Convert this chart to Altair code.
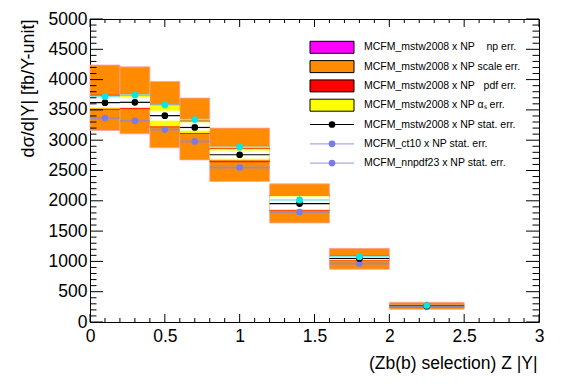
import altair as alt
import pandas as pd
import numpy as np

# ---------------- data ----------------
bin_lo = [0.0, 0.2, 0.4, 0.6, 0.8, 1.2, 1.6, 2.0]
bin_hi = [0.2, 0.4, 0.6, 0.8, 1.2, 1.6, 2.0, 2.5]
bin_mid = [0.1, 0.3, 0.5, 0.7, 1.0, 1.4, 1.8, 2.25]

mstw = [3620, 3625, 3405, 3210, 2760, 1955, 1048, 265]      # black
nnpdf = [3720, 3745, 3580, 3340, 2885, 2015, 1078, 272]     # cyan
ct10 = [3365, 3320, 3175, 2980, 2550, 1815, 965, 255]       # purple

nnpdf_err = [30, 30, 30, 30, 35, 60, 25, 10]

scale_lo = [3160, 3105, 2875, 2675, 2320, 1635, 870, 210]
scale_hi = [4240, 4210, 3970, 3695, 3200, 2280, 1215, 325]
pdf_lo = [3500, 3515, 3212, 3103, 2637, 1830, 1010, 245]
pdf_hi = [3750, 3745, 3596, 3322, 2880, 2095, 1092, 290]
as_lo = [3520, 3530, 3228, 3120, 2664, 1842, 1020, 250]
as_hi = [3735, 3735, 3580, 3310, 2857, 2089, 1082, 285]
inner_lo = [3540, 3545, 3322, 3158, 2692, 1860, 1030, 255]
inner_hi = [3710, 3715, 3487, 3294, 2829, 2070, 1072, 280]

x_tick_labels = [0, 0.5, 1, 1.5, 2, 2.5, 3]
y_tick_labels = [0, 500, 1000, 1500, 2000, 2500, 3000, 3500, 4000, 4500, 5000]

leg_box_labels = [
    "MCFM_mstw2008 x NP\u00a0\u00a0\u00a0\u00a0np err.",
    "MCFM_mstw2008 x NP scale err.",
    "MCFM_mstw2008 x NP\u00a0\u00a0\u00a0pdf err.",
    "MCFM_mstw2008 x NP \u03b1\u209b err.",
]
leg_box_colors = ["#ff00ff", "#ff8c00", "#ff0000", "#ffff00"]
leg_line_labels = [
    "MCFM_mstw2008 x NP stat. err.",
    "MCFM_ct10 x NP stat. err.",
    "MCFM_nnpdf23 x NP stat. err.",
]
leg_line_colors = ["#000000", "#7b7be8", "#7b7be8"]
leg_line_stroke = ["#000000", "#a8a8f0", "#a8a8f0"]

df = pd.DataFrame({
    "lo": bin_lo, "hi": bin_hi, "mid": bin_mid,
    "mstw": mstw, "nnpdf": nnpdf, "ct10": ct10,
    "nn_lo": [v - e for v, e in zip(nnpdf, nnpdf_err)],
    "nn_hi": [v + e for v, e in zip(nnpdf, nnpdf_err)],
    "scale_lo": scale_lo, "scale_hi": scale_hi,
    "pdf_lo": pdf_lo, "pdf_hi": pdf_hi,
    "as_lo": as_lo, "as_hi": as_hi,
    "in_lo": inner_lo, "in_hi": inner_hi,
})

# ---------------- layout / style ----------------
W, H = 449, 303
FONT = "Liberation Sans"

xs = alt.Scale(domain=[0, 3], nice=False, zero=False)
ys = alt.Scale(domain=[0, 5000], nice=False)

xaxis = alt.Axis(values=x_tick_labels, format="~g", ticks=False, domain=False, grid=False,
                 labelFont=FONT, labelFontSize=17.5, labelPadding=5, labelColor="black",
                 labelFlush=False, labelOverlap=False,
                 title="(Zb(b) selection) Z |Y|", titleFont=FONT, titleFontSize=17.5,
                 titleFontWeight="normal", titleColor="black", titleAlign="right",
                 titleBaseline="alphabetic", titleX=W - 2, titleY=46)
yaxis = alt.Axis(values=y_tick_labels, format="d", ticks=False, domain=False, grid=False,
                 labelFont=FONT, labelFontSize=17.5, labelPadding=3, labelColor="black",
                 labelFlush=False, labelOverlap=False,
                 title="d\u03c3/d|Y| [fb/Y-unit]", titleFont=FONT, titleFontSize=18,
                 titleFontWeight="normal", titleColor="black", titleAngle=270,
                 titleAlign="right", titleBaseline="alphabetic", titleX=-57, titleY=0)

def X(f):
    return alt.X(f, type="quantitative", scale=xs, axis=xaxis)

def Y(f):
    return alt.Y(f, type="quantitative", scale=ys, axis=yaxis)

base = alt.Chart(df)

orange = base.mark_rect(fill="#ff8c00", stroke="#ffa0b0", strokeWidth=0.8).encode(
    x=X("lo"), x2="hi", y=Y("scale_lo"), y2="scale_hi")
red = base.mark_rect(fill="#ff1a00").encode(x=X("lo"), x2="hi", y=Y("pdf_lo"), y2="pdf_hi")
yellow = base.mark_rect(fill="#ffff00").encode(x=X("lo"), x2="hi", y=Y("as_lo"), y2="as_hi")
inner = base.mark_rect(fill="#ffffff").encode(x=X("lo"), x2="hi", y=Y("in_lo"), y2="in_hi")

line_cyan = base.mark_rule(color="#80e8e8", strokeWidth=1.5).encode(x=X("lo"), x2="hi", y=Y("nnpdf"))
line_black = base.mark_rule(color="#000000", strokeWidth=1.2).encode(x=X("lo"), x2="hi", y=Y("mstw"))
line_purple = base.mark_rule(color="#8a8ad0", strokeWidth=2, opacity=0.75).encode(
    x=X("lo"), x2="hi", y=Y("ct10"))

err_cyan = base.mark_rule(color="#70c8a0", strokeWidth=1.2).encode(x=X("mid"), y=Y("nn_lo"), y2="nn_hi")

pt_purple = base.mark_point(filled=True, shape="circle", size=45, color="#7b7be8", opacity=1).encode(
    x=X("mid"), y=Y("ct10"))
pt_black = base.mark_point(filled=True, shape="circle", size=45, color="#000000", opacity=1).encode(
    x=X("mid"), y=Y("mstw"))
pt_cyan = base.mark_point(filled=True, shape="circle", size=45, color="#00e8e8", opacity=1).encode(
    x=X("mid"), y=Y("nnpdf"))

# ---------------- inward ticks (ROOT style) ----------------
y_major = pd.DataFrame({"v": y_tick_labels})
y_minor = pd.DataFrame({"v": [v for v in range(0, 5001, 100) if v % 500 != 0]})
x_major = pd.DataFrame({"v": x_tick_labels})
x_minor = pd.DataFrame({"v": [round(v, 2) for v in np.arange(0, 3.001, 0.1) if round(v * 10) % 5 != 0]})

tick_layers = []
for d, L in [(y_major, 13), (y_minor, 6.5)]:
    c = alt.Chart(d).mark_rule(color="black", strokeWidth=1)
    tick_layers.append(c.encode(y=Y("v"), x=alt.value(0), x2=alt.value(L)))
    tick_layers.append(c.encode(y=Y("v"), x=alt.value(W - L), x2=alt.value(W)))
for d, L in [(x_major, 8), (x_minor, 4)]:
    c = alt.Chart(d).mark_rule(color="black", strokeWidth=1)
    tick_layers.append(c.encode(x=X("v"), y=alt.value(H), y2=alt.value(H - L)))
    tick_layers.append(c.encode(x=X("v"), y=alt.value(0), y2=alt.value(L)))

# ---------------- legend ----------------
leg_layers = []
row0, step = 28.3, 19.3
lx0, lx1, tx = 220, 264, 274
for i, (lab, col) in enumerate(zip(leg_box_labels, leg_box_colors)):
    yc = row0 + i * step
    d = pd.DataFrame({"label": [lab]})
    leg_layers.append(alt.Chart(d).mark_rect(fill=col, stroke="black", strokeWidth=1).encode(
        x=alt.value(lx0), x2=alt.value(lx1), y=alt.value(yc - 6), y2=alt.value(yc + 6)))
    leg_layers.append(alt.Chart(d).mark_text(align="left", baseline="middle", font=FONT,
                                             fontSize=10.5, color="black").encode(
        x=alt.value(tx), y=alt.value(yc), text="label:N"))
for j, (lab, col, lcol) in enumerate(zip(leg_line_labels, leg_line_colors, leg_line_stroke)):
    yc = row0 + (len(leg_box_labels) + j) * step
    d = pd.DataFrame({"label": [lab]})
    leg_layers.append(alt.Chart(d).mark_rule(color=lcol, strokeWidth=1.2).encode(
        x=alt.value(lx0), x2=alt.value(lx1), y=alt.value(yc)))
    leg_layers.append(alt.Chart(d).mark_point(filled=True, shape="circle", size=45, color=col,
                                              opacity=1).encode(
        x=alt.value((lx0 + lx1) / 2), y=alt.value(yc)))
    leg_layers.append(alt.Chart(d).mark_text(align="left", baseline="middle", font=FONT,
                                             fontSize=10.5, color="black").encode(
        x=alt.value(tx), y=alt.value(yc), text="label:N"))

chart = alt.layer(
    orange, red, yellow, inner,
    line_cyan, line_black, line_purple,
    err_cyan, pt_purple, pt_black, pt_cyan,
    *tick_layers, *leg_layers,
).properties(
    width=W, height=H,
    autosize=alt.AutoSizeParams(type="none"),
    padding={"left": 82, "top": 11, "right": 20, "bottom": 52},
    background="white",
).configure_view(stroke="black", strokeWidth=1)

chart.save("out.html", embed_options={"renderer": "svg", "actions": False})
